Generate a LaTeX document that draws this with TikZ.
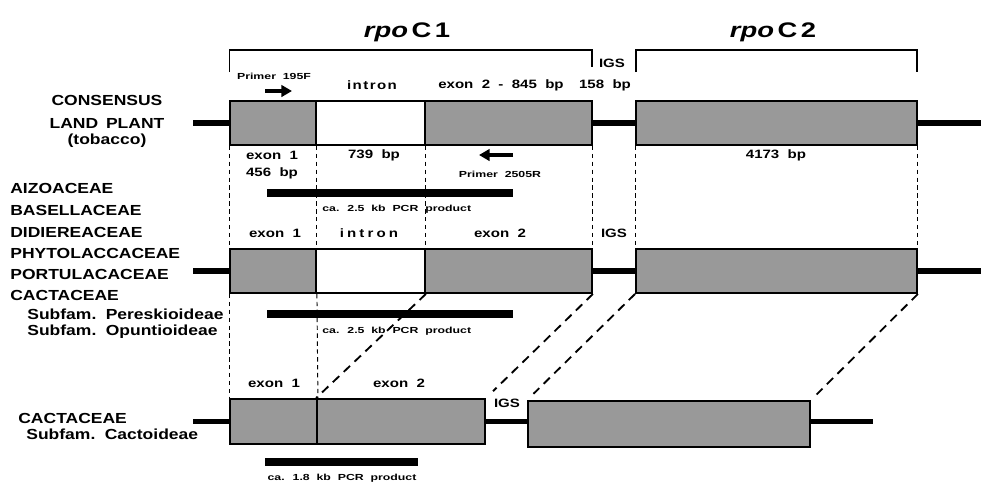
\documentclass[tikz,border=0pt]{standalone}
\usepackage{fontspec}
\setmainfont{Liberation Sans}
\newfontfamily\famFont[FakeStretch=1.2,WordSpace=1.6]{Liberation Sans}
\newfontfamily\segFont[FakeStretch=1.24,WordSpace=2]{Liberation Sans}
\newfontfamily\tinyFont[FakeStretch=1.4,WordSpace=2]{Liberation Sans}
\newfontfamily\geneFont[FakeStretch=1.3]{Liberation Sans}
\usetikzlibrary{arrows.meta}
\newcommand{\pxu}{0.02cm}

\begin{document}
\begin{tikzpicture}[x=0.02cm, y=-0.02cm,
    geneBoxStyle/.style={draw, line width=1.05pt, fill=black!40, inner sep=0pt, minimum height=44*\pxu},
    intronBoxStyle/.style={draw, line width=1.05pt, fill=white, inner sep=0pt, minimum height=44*\pxu},
    backboneStyle/.style={line width=3.4pt},
    pcrStyle/.style={line width=4pt},
    primerStyle/.style={line width=1.8pt, -{Triangle[length=6pt, width=6.5pt]}},
    guideStyle/.style={line width=0.55pt, dash pattern=on 2.5pt off 2pt},
    slantStyle/.style={line width=1.05pt, dash pattern=on 5pt off 3.5pt},
    bracketStyle/.style={line width=1pt},
    titleStyle/.style={font=\geneFont\bfseries\fontsize{12}{14}\selectfont},
    famStyle/.style={font=\famFont\bfseries\fontsize{8.3}{10}\selectfont, inner sep=0pt},
    segStyle/.style={font=\segFont\bfseries\fontsize{6.9}{8}\selectfont, inner sep=0pt},
    tinyStyle/.style={font=\tinyFont\bfseries\fontsize{5}{6}\selectfont, inner sep=0pt}]
    \useasboundingbox (0,0) rectangle (985,488);

    % Gene titles and brackets
    \node[titleStyle] (rpoOne) at (407,32) {{\itshape rpo}\,C\,1};
    \node[titleStyle] (rpoTwo) at (773,32) {{\itshape rpo}\,C\,2};
    \draw[bracketStyle] (229.5,72) |- (592,50) -- (592,67);
    \draw[bracketStyle] (636,72) |- (917,50) -- (917,72);
    \node[segStyle] (igsTop) at (612,63) {IGS};

    % Consensus land plant
    \node[famStyle] (consLbl) at (107,100) {CONSENSUS};
    \node[famStyle] (landLbl) at (107,123) {LAND PLANT};
    \node[famStyle] (tobLbl) at (107,141) {(tobacco)};
    \node[geneBoxStyle, minimum width=86*\pxu] (ex1A) at (273,123) {};
    \node[intronBoxStyle, minimum width=109*\pxu] (intA) at (370.5,123) {};
    \node[geneBoxStyle, minimum width=167*\pxu] (ex2A) at (508.5,123) {};
    \node[geneBoxStyle, minimum width=281*\pxu] (c2A) at (776.5,123) {};
    \coordinate (lA) at (193,123);
    \coordinate (rA) at (981,123);
    \draw[backboneStyle] (lA) -- (ex1A.west);
    \draw[backboneStyle] (ex2A.east) -- (c2A.west);
    \draw[backboneStyle] (c2A.east) -- (rA);

    \node[tinyStyle] (p195Lbl) at (274,76) {Primer 195F};
    \coordinate (p195s) at (265,91);
    \coordinate (p195e) at (292,91);
    \draw[primerStyle] (p195s) -- (p195e);
    \node[segStyle] (intLblA) at (372,85) {\addfontfeature{LetterSpace=12}intron};
    \node[segStyle] (ex2LblA) at (501,85) {exon 2 - 845 bp};
    \node[segStyle] (igsBpLbl) at (605,85) {158 bp};

    \node[segStyle] (ex1LblA) at (272,155) {exon 1};
    \node[segStyle] (ex1BpLbl) at (272,173) {456 bp};
    \node[segStyle] (intBpLbl) at (374,155) {739 bp};
    \node[segStyle] (c2BpLbl) at (776,155) {4173 bp};
    \coordinate (p2505s) at (513,155);
    \coordinate (p2505e) at (479,155);
    \draw[primerStyle] (p2505s) -- (p2505e);
    \node[tinyStyle] (p2505Lbl) at (500,174) {Primer 2505R};
    \coordinate (pcrA1) at (267,193);
    \coordinate (pcrA2) at (513,193);
    \draw[pcrStyle] (pcrA1) -- (pcrA2);
    \node[tinyStyle, anchor=west] (pcrLblA) at (322,209) {ca. 2.5 kb PCR product};

    % Other families
    \node[famStyle, anchor=west] (aizLbl) at (10,188) {AIZOACEAE};
    \node[famStyle, anchor=west] (basLbl) at (10,210) {BASELLACEAE};
    \node[famStyle, anchor=west] (didLbl) at (10,232) {DIDIEREACEAE};
    \node[famStyle, anchor=west] (phyLbl) at (10,253) {PHYTOLACCACEAE};
    \node[famStyle, anchor=west] (porLbl) at (10,274) {PORTULACACEAE};
    \node[famStyle, anchor=west] (cacLbl) at (10,295) {CACTACEAE};
    \node[famStyle, anchor=west] (perLbl) at (27,314) {Subfam. Pereskioideae};
    \node[famStyle, anchor=west] (opuLbl) at (27,332) {Subfam. Opuntioideae};

    \node[segStyle] (ex1LblB) at (275,233) {exon 1};
    \node[segStyle] (intLblB) at (369,233) {\addfontfeature{LetterSpace=26}intron};
    \node[segStyle] (ex2LblB) at (500,233) {exon 2};
    \node[segStyle] (igsLblB) at (614,233) {IGS};
    \node[geneBoxStyle, minimum width=86*\pxu] (ex1B) at (273,271) {};
    \node[intronBoxStyle, minimum width=109*\pxu] (intB) at (370.5,271) {};
    \node[geneBoxStyle, minimum width=167*\pxu] (ex2B) at (508.5,271) {};
    \node[geneBoxStyle, minimum width=281*\pxu] (c2B) at (776.5,271) {};
    \coordinate (lB) at (193,271);
    \coordinate (rB) at (981,271);
    \draw[backboneStyle] (lB) -- (ex1B.west);
    \draw[backboneStyle] (ex2B.east) -- (c2B.west);
    \draw[backboneStyle] (c2B.east) -- (rB);
    \coordinate (pcrB1) at (267,314);
    \coordinate (pcrB2) at (513,314);
    \draw[pcrStyle] (pcrB1) -- (pcrB2);
    \node[tinyStyle, anchor=west] (pcrLblB) at (322,331) {ca. 2.5 kb PCR product};

    \draw[guideStyle] (ex1A.south west) -- (ex1B.north west);
    \draw[guideStyle] (ex1A.south east) -- (ex1B.north east);
    \draw[guideStyle] (intA.south east) -- (intB.north east);
    \draw[guideStyle] (ex2A.south east) -- (ex2B.north east);
    \draw[guideStyle] (c2A.south west) -- (c2B.north west);
    \draw[guideStyle] (c2A.south east) -- (c2B.north east);

    % Cactoideae
    \node[famStyle, anchor=west] (cacLblC) at (18,418) {CACTACEAE};
    \node[famStyle, anchor=west] (cctLbl) at (26,434) {Subfam. Cactoideae};
    \node[segStyle] (ex1LblC) at (274,383) {exon 1};
    \node[segStyle] (ex2LblC) at (399,383) {exon 2};
    \node[geneBoxStyle, minimum width=87*\pxu, minimum height=45*\pxu] (ex1C) at (273.5,421.5) {};
    \node[geneBoxStyle, minimum width=168*\pxu, minimum height=45*\pxu] (ex2C) at (401,421.5) {};
    \node[geneBoxStyle, minimum width=282*\pxu, minimum height=46*\pxu] (c2C) at (669,424) {};
    \node[segStyle] (igsLblC) at (507,403) {IGS};
    \coordinate (lC) at (193,421.5);
    \coordinate (rC) at (873,421.5);
    \draw[backboneStyle] (lC) -- (ex1C.west);
    \draw[backboneStyle] (ex2C.east) -- (ex2C.east -| c2C.west);
    \draw[backboneStyle] (c2C.east |- rC) -- (rC);
    \coordinate (pcrC1) at (265,462);
    \coordinate (pcrC2) at (418,462);
    \draw[pcrStyle] (pcrC1) -- (pcrC2);
    \node[tinyStyle] (pcrLblC) at (342,478) {ca. 1.8 kb PCR product};

    \draw[guideStyle] (ex1B.south west) -- (ex1C.north west);
    \draw[guideStyle] (ex1B.south east) -- (ex1C.north east);
    \draw[slantStyle] (intB.south east) -- (ex2C.north west);
    \draw[slantStyle, shorten >=10*\pxu] (ex2B.south east) -- (ex2C.north east);
    \draw[slantStyle, shorten >=9*\pxu] (c2B.south west) -- (c2C.north west);
    \draw[slantStyle, shorten >=8*\pxu] (c2B.south east) -- (c2C.north east);
\end{tikzpicture}
\end{document}
